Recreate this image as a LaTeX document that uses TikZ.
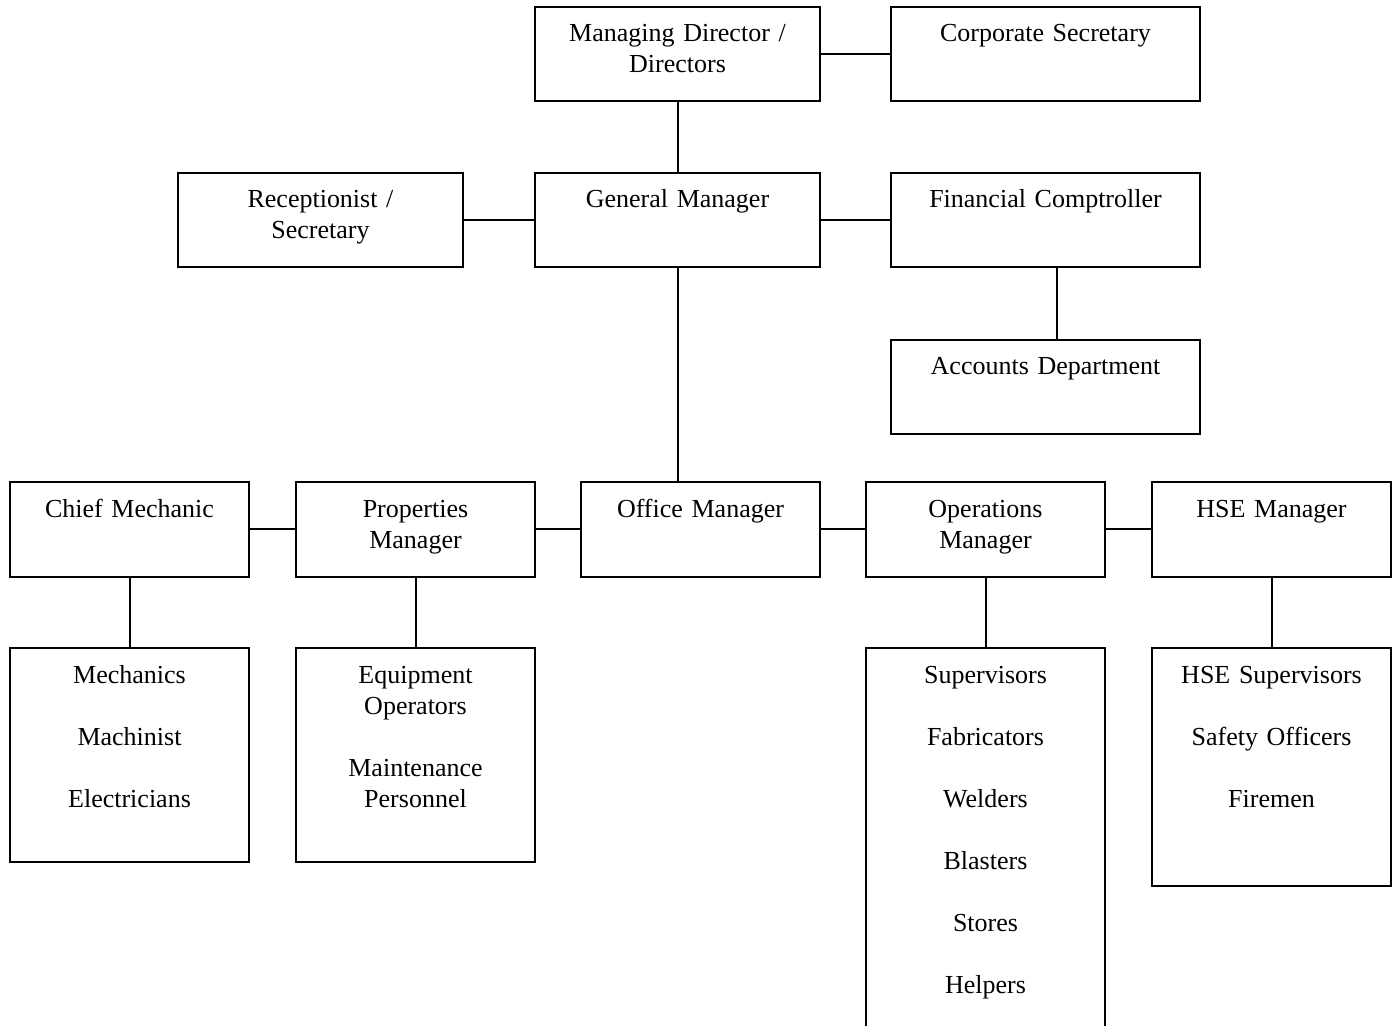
\documentclass[tikz,border=0pt]{standalone}
\usepackage{fontspec}
\setmainfont{Liberation Serif}
\newcommand\orgfont{\fontsize{13}{15.5}\selectfont}

\begin{document}
\begin{tikzpicture}[x=0.5pt, y=-0.5pt,
        box/.style={draw, line width=1pt, inner sep=0pt, outer sep=0pt, anchor=north west, align=center, font=\orgfont, text height=17.5pt, text depth=29.5pt},
        headbox/.style={box, text width=142.5pt},
        sidebox/.style={box, text width=154.5pt},
        unitbox/.style={box, text width=119.5pt, text depth=30pt},
        link/.style={line width=1pt}]
        \useasboundingbox (0, 0) rectangle (1398, 1026);

        % Management
        \node[headbox] (md) at (535, 7) {Managing Director /\\Directors};
        \node[sidebox] (cs) at (891, 7) {Corporate Secretary};
        \node[headbox] (rec) at (178, 173) {Receptionist /\\Secretary};
        \node[headbox] (gm) at (535, 173) {General Manager};
        \node[sidebox] (fc) at (891, 173) {Financial Comptroller};
        \node[sidebox] (acc) at (891, 340) {Accounts Department};

        % Departments
        \node[unitbox] (chief) at (10, 482) {Chief Mechanic};
        \node[unitbox] (prop) at (296, 482) {Properties\\Manager};
        \node[unitbox] (office) at (581, 482) {Office Manager};
        \node[unitbox] (ops) at (866, 482) {Operations\\Manager};
        \node[unitbox] (hse) at (1152, 482) {HSE Manager};

        % Staff
        \node[unitbox, text depth=89.5pt] (mech) at (10, 648) {Mechanics\\[15.5pt]Machinist\\[15.5pt]Electricians};
        \node[unitbox, text depth=89.5pt] (equip) at (296, 648) {Equipment\\Operators\\[15.5pt]Maintenance\\Personnel};
        \node[unitbox, text depth=177pt] (crew) at (866, 648) {Supervisors\\[15.5pt]Fabricators\\[15.5pt]Welders\\[15.5pt]Blasters\\[15.5pt]Stores\\[15.5pt]Helpers};
        \node[unitbox, text depth=101.5pt] (safety) at (1152, 648) {HSE Supervisors\\[15.5pt]Safety Officers\\[15.5pt]Firemen};

        \draw[link] (md.east) -- (cs.west);
        \draw[link] (md.south) -- (gm.north);
        \draw[link] (rec.east) -- (gm.west);
        \draw[link] (gm.east) -- (fc.west);
        \draw[link] ([xshift=5.5pt]fc.south) -- ([xshift=5.5pt]acc.north);
        \draw[link] (gm.south) -- (gm.south |- office.north);

        \foreach \a/\b in {chief/prop, prop/office, office/ops, ops/hse} {
            \draw[link] (\a.east) -- (\b.west);
        }
        \foreach \a/\b in {chief/mech, prop/equip, ops/crew, hse/safety} {
            \draw[link] (\a.south) -- (\b.north);
        }

    \end{tikzpicture}
\end{document}
